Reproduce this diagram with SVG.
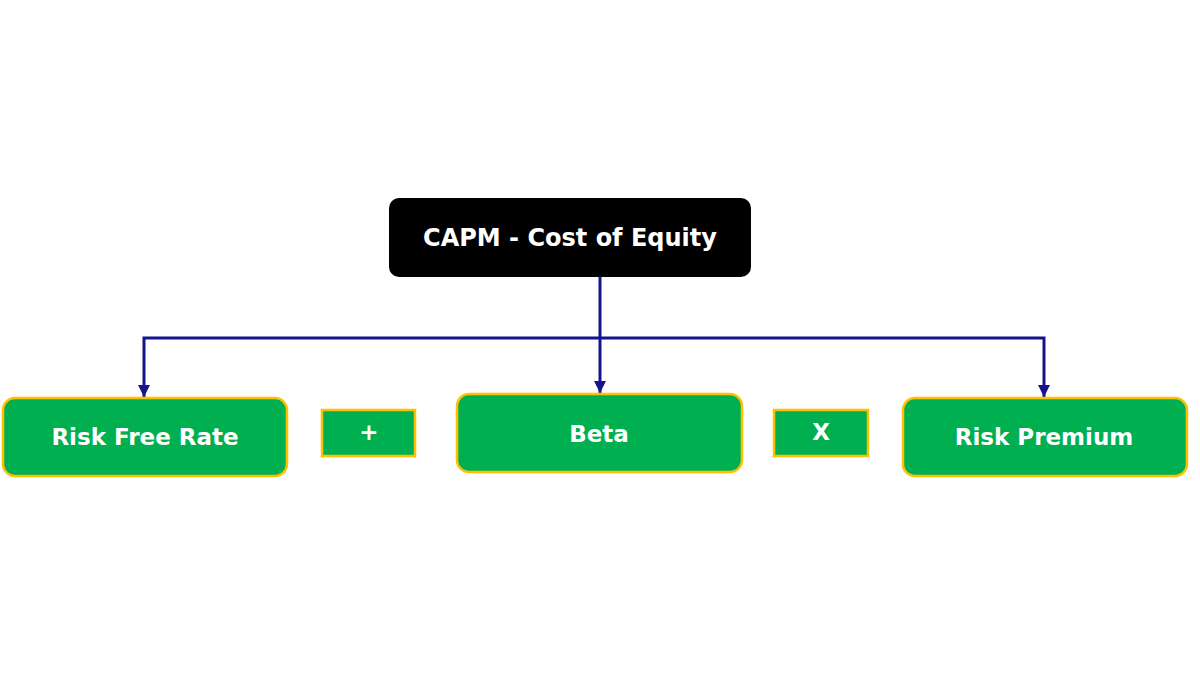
<svg xmlns="http://www.w3.org/2000/svg" width="1200" height="675" viewBox="0 0 1200 675">
<style>
.node{fill:#00B050;stroke:#FFC000;stroke-width:2.5}
.op{fill:#00B050;stroke:#FFC000;stroke-width:2.5}
.t{font-family:"DejaVu Sans",Verdana,sans-serif;font-weight:bold;font-size:23px;fill:#ffffff;text-anchor:middle;dominant-baseline:central}
.c{fill:none;stroke:#14148C;stroke-width:3}
</style>
<defs>
<marker id="ah" viewBox="0 0 10 10" refX="10" refY="5" markerWidth="4" markerHeight="4" orient="auto" markerUnits="strokeWidth">
<path d="M0,0 L10,5 L0,10 z" fill="#14148C"/>
</marker>
</defs>
<rect width="1200" height="675" fill="#ffffff"/>
<g id="connectors">
<path class="c" d="M600,277 V393" marker-end="url(#ah)"/>
<path class="c" d="M600,338 H144 V397" marker-end="url(#ah)"/>
<path class="c" d="M600,338 H1044 V397" marker-end="url(#ah)"/>
</g>
<g id="capm">
<rect x="389" y="198" width="362" height="79" rx="10" fill="#000000"/>
<text class="t" x="570" y="238" style="font-size:24px">CAPM - Cost of Equity</text>
</g>
<g id="riskfree">
<rect class="node" x="3" y="398" width="284" height="78" rx="12"/>
<text class="t" x="145" y="437">Risk Free Rate</text>
</g>
<g id="plus">
<rect class="op" x="322" y="410" width="93" height="46"/>
<text class="t" x="369" y="432">+</text>
</g>
<g id="beta">
<rect class="node" x="457" y="394" width="285" height="78" rx="12"/>
<text class="t" x="599" y="434">Beta</text>
</g>
<g id="times">
<rect class="op" x="774" y="410" width="94" height="46"/>
<text class="t" x="821" y="432">X</text>
</g>
<g id="riskpremium">
<rect class="node" x="903" y="398" width="284" height="78" rx="12"/>
<text class="t" x="1044" y="437">Risk Premium</text>
</g>
</svg>
